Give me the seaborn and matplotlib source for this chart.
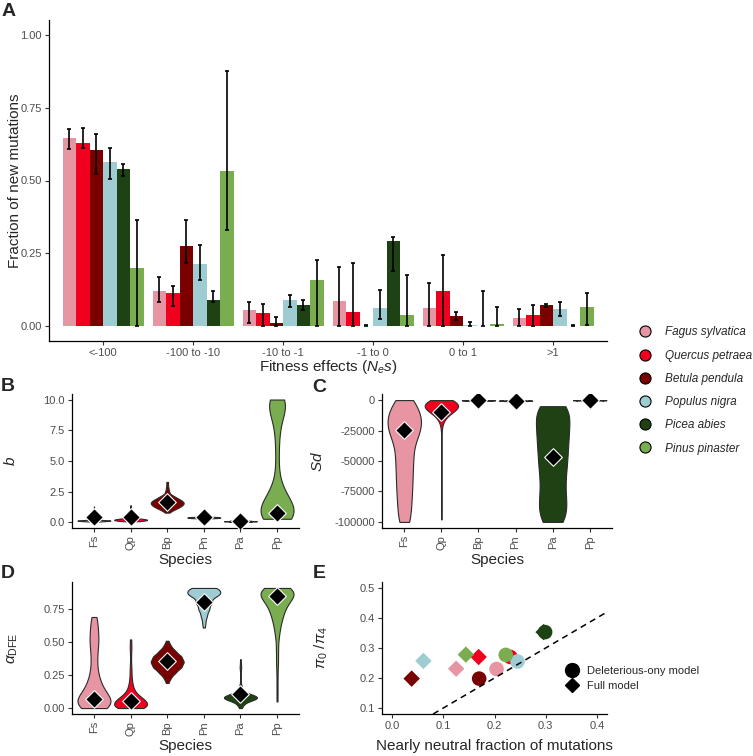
import numpy as np
import pandas as pd
import matplotlib.pyplot as plt
import seaborn as sns
from matplotlib.lines import Line2D
from matplotlib.ticker import FormatStrFormatter

# species and colours
species = ["Fs", "Qp", "Bp", "Pn", "Pa", "Pp"]
species_names = ["Fagus sylvatica", "Quercus petraea", "Betula pendula",
                 "Populus nigra", "Picea abies", "Pinus pinaster"]
colors = ["#E895A3", "#F0001E", "#7A0000", "#9FCBD3", "#1F4215", "#79AD4F"]

# panel A: DFE classes
classes = ["<-100", "-100 to -10", "-10 to -1", "-1 to 0", "0 to 1", ">1"]
frac = {
    "Fs": [0.644, 0.122, 0.055, 0.088, 0.064, 0.030],
    "Qp": [0.630, 0.114, 0.047, 0.048, 0.123, 0.040],
    "Bp": [0.604, 0.274, 0.010, 0.002, 0.036, 0.074],
    "Pn": [0.565, 0.214, 0.090, 0.064, 0.006, 0.060],
    "Pa": [0.538, 0.092, 0.073, 0.293, 0.000, 0.002],
    "Pp": [0.200, 0.531, 0.158, 0.040, 0.007, 0.065],
}
frac_lo = {
    "Fs": [0.609, 0.085, 0.010, 0.003, 0.000, 0.000],
    "Qp": [0.613, 0.071, 0.003, 0.000, 0.000, 0.000],
    "Bp": [0.523, 0.216, 0.000, 0.000, 0.023, 0.068],
    "Pn": [0.505, 0.159, 0.067, 0.025, 0.000, 0.034],
    "Pa": [0.514, 0.084, 0.057, 0.190, 0.000, 0.000],
    "Pp": [0.000, 0.330, 0.000, 0.000, 0.000, 0.006],
}
frac_hi = {
    "Fs": [0.677, 0.171, 0.083, 0.202, 0.148, 0.061],
    "Qp": [0.679, 0.138, 0.076, 0.216, 0.245, 0.073],
    "Bp": [0.660, 0.365, 0.031, 0.004, 0.049, 0.077],
    "Pn": [0.612, 0.280, 0.106, 0.124, 0.015, 0.083],
    "Pa": [0.556, 0.123, 0.091, 0.308, 0.122, 0.004],
    "Pp": [0.363, 0.874, 0.229, 0.175, 0.066, 0.114],
}

# panel B: b (bootstrap values, value -> count)
b_boot = {
    "Fs": ([0.08, 0.12, 0.15, 0.18, 0.22, 0.4, 0.7, 1.0, 1.3], [15, 40, 50, 40, 15, 2, 1, 1, 1]),
    "Qp": ([0.1, 0.15, 0.2, 0.25, 0.3, 0.4, 0.5, 0.6, 0.8, 1.0, 1.2, 1.4], [15, 25, 30, 28, 24, 18, 12, 8, 4, 3, 2, 1]),
    "Bp": ([0.8, 1.0, 1.2, 1.4, 1.6, 1.8, 2.0, 2.2, 2.5, 2.8, 3.1, 3.3], [2, 6, 12, 16, 18, 15, 10, 6, 3, 2, 1, 1]),
    "Pn": ([0.28, 0.32, 0.36, 0.4, 0.44, 0.48, 0.52], [3, 10, 25, 30, 25, 10, 3]),
    "Pa": ([0.04, 0.07, 0.1, 0.13, 0.16], [5, 20, 30, 20, 5]),
    "Pp": ([0.3, 0.6, 1.0, 1.5, 2.0, 2.5, 3.0, 4.0, 5.0, 6.0, 7.0, 8.0, 9.0, 9.5, 10.0],
           [18, 20, 18, 14, 10, 7, 5, 3, 3, 3, 4, 6, 9, 12, 14]),
}
b_mean = [0.41, 0.41, 1.63, 0.41, 0.11, 0.76]

# panel C: Sd
sd_boot = {
    "Fs": ([0, -5000, -10000, -15000, -20000, -25000, -30000, -40000, -50000, -60000, -70000, -80000, -90000, -100000],
           [7, 9, 10, 11, 11, 11, 11, 11, 11, 10, 10, 9, 8, 8]),
    "Qp": ([0, -2000, -4000, -6000, -8000, -10000, -13000, -16000, -20000, -25000, -35000, -50000, -65000, -80000, -88000, -98000],
           [30, 36, 38, 36, 30, 24, 16, 9, 4, 2, 1, 1, 1, 2, 2, 1]),
    "Bp": ([-600, -400, -200, 0], [3, 8, 10, 6]),
    "Pn": ([-1000, -700, -400, -100], [3, 8, 10, 6]),
    "Pa": ([-5000, -10000, -20000, -30000, -40000, -50000, -60000, -70000, -80000, -90000, -100000],
           [8, 10, 11, 11, 10, 10, 9, 8, 9, 10, 9]),
    "Pp": ([-300, -200, -100, 0], [3, 8, 10, 6]),
}
sd_mean = [-24900, -9600, -100, -500, -46600, 0]

# panel D: alpha_DFE
alpha_boot = {
    "Fs": ([0, 0.03, 0.06, 0.1, 0.15, 0.2, 0.25, 0.3, 0.35, 0.4, 0.45, 0.5, 0.55, 0.6, 0.65, 0.69],
           [16, 18, 18, 16, 12, 8, 6, 4, 4, 4, 5, 6, 6, 5, 4, 4]),
    "Qp": ([0, 0.02, 0.05, 0.08, 0.12, 0.16, 0.2, 0.25, 0.3, 0.35, 0.4, 0.45, 0.5, 0.52],
           [18, 22, 22, 16, 8, 4, 3, 2, 2, 1, 1, 2, 1, 1]),
    "Bp": ([0.19, 0.23, 0.27, 0.31, 0.35, 0.39, 0.43, 0.47, 0.51], [1, 3, 7, 12, 14, 12, 7, 3, 1]),
    "Pn": ([0.61, 0.65, 0.7, 0.75, 0.8, 0.85, 0.88, 0.91], [1, 2, 4, 7, 10, 13, 14, 12]),
    "Pa": ([0, 0.03, 0.06, 0.08, 0.1, 0.13, 0.17, 0.22, 0.28, 0.31, 0.34, 0.37],
           [3, 8, 22, 32, 22, 8, 3, 1, 1, 2, 1, 1]),
    "Pp": ([0.05, 0.15, 0.25, 0.35, 0.45, 0.55, 0.62, 0.68, 0.74, 0.8, 0.85, 0.88, 0.91],
           [1, 1, 1, 2, 2, 3, 4, 6, 9, 12, 14, 14, 12]),
}
alpha_mean = [0.068, 0.055, 0.36, 0.80, 0.103, 0.848]

# panel E: pi0/pi4 vs nearly neutral fraction
nn_del = [0.204, 0.231, 0.170, 0.245, 0.299, 0.222]
pi_del = [0.230, 0.270, 0.198, 0.255, 0.353, 0.277]
nn_full = [0.125, 0.169, 0.038, 0.061, 0.296, 0.144]
pi_full = [0.231, 0.270, 0.198, 0.257, 0.353, 0.278]

sns.set_style("ticks")
plt.rcParams["font.family"] = ["Liberation Sans", "DejaVu Sans"]
plt.rcParams["mathtext.fontset"] = "custom"
plt.rcParams["mathtext.rm"] = "Liberation Sans"
plt.rcParams["mathtext.it"] = "Liberation Sans:italic"
plt.rcParams["axes.unicode_minus"] = False

W, H = 753, 756
fig = plt.figure(figsize=(W / 100, H / 100), dpi=100)


def add_ax(left, right, top, bottom):
    return fig.add_axes([left / W, 1 - bottom / H, (right - left) / W, (bottom - top) / H])


def style_ax(ax):
    sns.despine(ax=ax)
    for s in ["left", "bottom"]:
        ax.spines[s].set_linewidth(0.9)
        ax.spines[s].set_color("black")
    ax.tick_params(length=3, width=0.8, color="#333333", labelsize=8, labelcolor="#4D4D4D", pad=2)


pal = dict(zip(species, colors))

# ---- A ----
axA = add_ax(49, 607, 20, 341)
rows = []
for sp in species:
    for i, c in enumerate(classes):
        rows.append({"species": sp, "cls": c, "frac": frac[sp][i]})
dfA = pd.DataFrame(rows)
sns.barplot(data=dfA, x="cls", y="frac", hue="species", order=classes, hue_order=species,
            palette=pal, width=0.9, errorbar=None, saturation=1, linewidth=0, legend=False, ax=axA)
for sp, cont in zip(species, axA.containers):
    xs = [b.get_x() + b.get_width() / 2 for b in cont]
    y = np.array(frac[sp])
    lo = y - np.array(frac_lo[sp])
    hi = np.array(frac_hi[sp]) - y
    axA.errorbar(xs, y, yerr=[lo, hi], fmt="none", ecolor="black", elinewidth=1.2,
                 capsize=1.4, capthick=1.2, zorder=5)
axA.set_xlim(-0.6, 5.6)
axA.set_ylim(-0.05, 1.05)
axA.set_yticks([0, 0.25, 0.5, 0.75, 1.0])
axA.yaxis.set_major_formatter(FormatStrFormatter("%.2f"))
axA.set_ylabel("Fraction of new mutations", fontsize=11)
axA.set_xlabel(r"Fitness effects ($N_e s$)", fontsize=11, labelpad=0)
axA.yaxis.set_label_coords(-0.048, 0.5)
style_ax(axA)


def violin_panel(ax, boot, means, ylabel, bw=0.7):
    rows = []
    for sp in species:
        vals, counts = boot[sp]
        for v in np.repeat(vals, counts):
            rows.append({"species": sp, "value": v})
    df = pd.DataFrame(rows)
    sns.violinplot(data=df, x="species", y="value", hue="species", order=species, hue_order=species,
                   palette=pal, legend=False, cut=0, inner=None, density_norm="width", width=0.9,
                   linewidth=0.8, linecolor="#2b2b2b", saturation=1, bw_adjust=bw, ax=ax)
    sns.stripplot(x=species, y=means, order=species, marker="D", size=9, color="black",
                  edgecolor="white", linewidth=0.8, jitter=False, zorder=10, ax=ax)
    ax.set_xlim(-0.6, 5.6)
    ax.set_xlabel("Species", fontsize=11, labelpad=2)
    ax.set_ylabel(ylabel, fontsize=11)
    ax.tick_params(axis="x", labelrotation=90)
    style_ax(ax)


# ---- B ----
axB = add_ax(72, 299, 394, 528)
violin_panel(axB, b_boot, b_mean, "$b$")
axB.set_ylim(-0.45, 10.45)
axB.set_yticks([0, 2.5, 5, 7.5, 10])
axB.yaxis.set_major_formatter(FormatStrFormatter("%.1f"))
axB.yaxis.set_label_coords(-0.238, 0.5)

# ---- C ----
axC = add_ax(382, 612, 394, 528)
violin_panel(axC, sd_boot, sd_mean, "$Sd$", bw=0.8)
axC.set_ylim(-105000, 5000)
axC.set_yticks([0, -25000, -50000, -75000, -100000])
axC.yaxis.set_major_formatter(FormatStrFormatter("%d"))
axC.yaxis.set_label_coords(-0.248, 0.5)

# ---- D ----
axD = add_ax(72, 299, 582, 714)
violin_panel(axD, alpha_boot, alpha_mean, r"$\alpha_{\mathrm{DFE}}$")
axD.set_ylim(-0.045, 0.955)
axD.set_yticks([0, 0.25, 0.5, 0.75])
axD.yaxis.set_major_formatter(FormatStrFormatter("%.2f"))
axD.yaxis.set_label_coords(-0.229, 0.5)

# ---- E ----
axE = add_ax(382, 607, 582, 714)
sns.scatterplot(x=nn_del, y=pi_del, hue=species, palette=pal, marker="o", s=110,
                linewidth=0, legend=False, ax=axE)
sns.scatterplot(x=nn_full, y=pi_full, hue=species, palette=pal, marker="D", s=70,
                linewidth=0, legend=False, ax=axE)
axE.axline((0, 0), (1, 1), color="black", ls=(0, (4, 3)), lw=1.1)
axE.set_xlim(-0.02, 0.42)
axE.set_ylim(0.08, 0.52)
axE.set_xticks([0, 0.1, 0.2, 0.3, 0.4])
axE.set_yticks([0.1, 0.2, 0.3, 0.4, 0.5])
axE.xaxis.set_major_formatter(FormatStrFormatter("%.1f"))
axE.yaxis.set_major_formatter(FormatStrFormatter("%.1f"))
axE.set_xlabel("Nearly neutral fraction of mutations", fontsize=11, labelpad=6)
axE.set_ylabel(r"$\pi_0\ /\pi_4$", fontsize=11)
axE.yaxis.set_label_coords(-0.231, 0.5)
style_ax(axE)
model_handles = [Line2D([], [], marker="o", color="black", ls="", markersize=10),
                 Line2D([], [], marker="D", color="black", ls="", markersize=7)]
axE.legend(model_handles, ["Deleterious-ony model", "Full model"], loc="center left",
           bbox_to_anchor=(566 / W, 1 - 678.5 / H), bbox_transform=fig.transFigure,
           frameon=False, fontsize=8, handlelength=1.0, handletextpad=0.9,
           labelspacing=0.5, borderpad=0, borderaxespad=0)

# ---- species legend ----
sp_handles = [Line2D([], [], marker="o", color=c, markerfacecolor=c, markeredgecolor="black",
                     markeredgewidth=0.8, ls="", markersize=8) for c in colors]
leg = fig.legend(sp_handles, species_names, loc="center left",
                 bbox_to_anchor=(638 / W, 1 - 390.5 / H), frameon=False,
                 handlelength=1.2, handletextpad=1.1, labelspacing=0.95,
                 borderpad=0, borderaxespad=0, prop={"size": 8.5, "style": "italic"})

# panel letters
for lab, x, y in [("A", 2, 11), ("B", 1, 387), ("C", 312, 388), ("D", 1, 574), ("E", 313, 574)]:
    fig.text(x / W, 1 - y / H, lab, fontsize=14, fontweight="bold", ha="left", va="center")

fig.savefig("out.png", dpi=100)
